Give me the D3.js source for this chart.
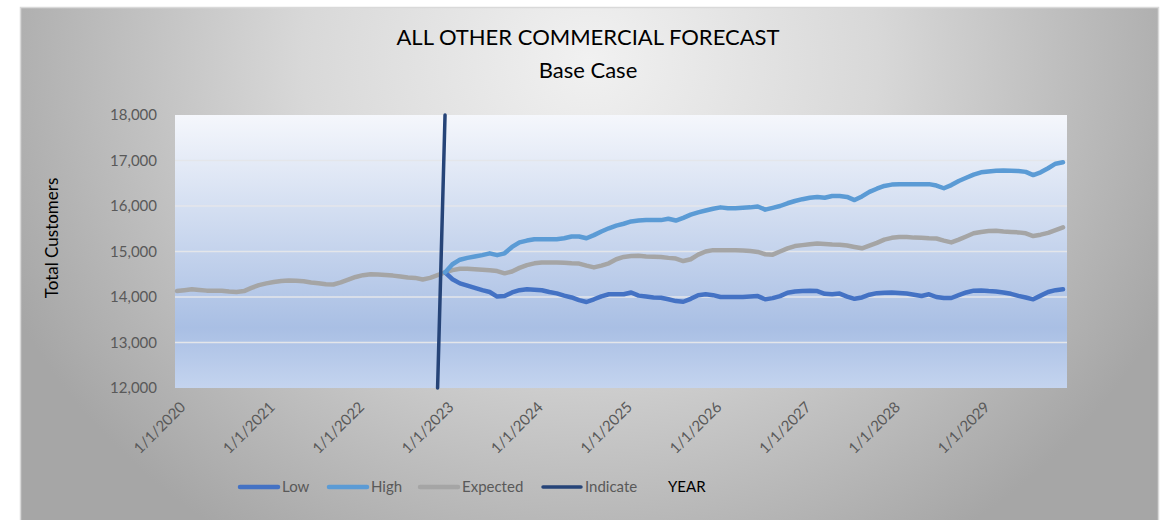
<!DOCTYPE html>
<html>
<head>
<meta charset="utf-8">
<script src="https://cdn.jsdelivr.net/npm/d3@7"></script>
<style>
  html, body { margin: 0; padding: 0; background: #ffffff; }
  svg { display: block; font-family: Lato, "Open Sans", sans-serif; }
</style>
</head>
<body>
<svg id="chart" width="1170" height="520"></svg>
<script>
// Monthly customer counts, January 2020 through December 2029
const startMonth = new Date(Date.UTC(2020, 0, 1));
const endMonth = new Date(Date.UTC(2030, 0, 1));
const forecastStart = new Date(Date.UTC(2023, 0, 1));

// Expected case: history 2020-2022 plus forecast
const expectedValues = [
  14130, 14150, 14170, 14155, 14140, 14135, 14135, 14120, 14110, 14130, 14200, 14260,
  14300, 14330, 14350, 14360, 14355, 14345, 14320, 14300, 14280, 14275, 14320, 14380,
  14440, 14480, 14500, 14495, 14485, 14470, 14450, 14430, 14420, 14385, 14420, 14480,
  14540, 14590, 14620, 14620, 14610, 14600, 14590, 14570, 14520, 14560, 14640, 14700,
  14740, 14760, 14760, 14760, 14755, 14740, 14735, 14690, 14650, 14690, 14740, 14830,
  14880, 14900, 14905, 14890, 14885, 14880, 14860, 14845, 14790, 14830, 14930, 15000,
  15030, 15030, 15030, 15030, 15020, 15010, 14990, 14940, 14930, 15000, 15070, 15120,
  15140, 15160, 15175, 15165, 15155, 15150, 15130, 15100, 15070, 15130, 15190, 15260,
  15300, 15320, 15320, 15305, 15300, 15290, 15285, 15240, 15200, 15260, 15330, 15400,
  15430, 15450, 15455, 15440, 15430, 15420, 15400, 15340, 15370, 15410, 15470, 15530
];

// High case: forecast from January 2023
const highValues = [
  14540, 14720, 14820, 14860, 14890, 14920, 14960, 14920, 14960, 15100, 15200, 15240,
  15270, 15270, 15270, 15270, 15290, 15330, 15330, 15290, 15360, 15440, 15510, 15570,
  15610, 15660, 15680, 15690, 15690, 15690, 15720, 15680, 15740, 15810, 15860, 15900,
  15940, 15970, 15950, 15950, 15960, 15970, 15990, 15920, 15960, 16000, 16060, 16110,
  16150, 16180, 16200, 16180, 16220, 16220, 16200, 16130, 16210, 16310, 16380, 16440,
  16470, 16480, 16480, 16480, 16480, 16480, 16450, 16390, 16460, 16550, 16620, 16690,
  16740, 16760, 16775, 16780, 16775, 16770, 16750, 16680, 16740, 16830, 16930, 16960
];

// Low case: forecast from January 2023
const lowValues = [
  14540, 14390, 14300, 14250, 14200, 14150, 14110, 14010, 14020, 14100, 14150, 14170,
  14160, 14148, 14110, 14080, 14030, 13990, 13930, 13890, 13950, 14015, 14060, 14060,
  14060, 14100, 14030, 14010, 13990, 13985, 13950, 13910, 13895, 13960, 14040, 14060,
  14040, 14000, 14000, 14000, 14000, 14010, 14020, 13950, 13975, 14020, 14095, 14120,
  14130, 14135, 14130, 14070, 14060, 14075, 14010, 13960, 13990, 14050, 14085, 14095,
  14100, 14090, 14075, 14050, 14022, 14060, 14000, 13978, 13978, 14040, 14100, 14140,
  14145, 14130, 14120, 14100, 14070, 14025, 13990, 13949, 14030, 14110, 14150, 14170
];

// Marker line at the start of the forecast
const indicateDates = [new Date(Date.UTC(2022, 11, 1)), new Date(Date.UTC(2023, 0, 1))];
const indicateValues = [12000, 18000];

const yTickValues = [12000, 13000, 14000, 15000, 16000, 17000, 18000];
const xTickLabels = ["1/1/2020", "1/1/2021", "1/1/2022", "1/1/2023", "1/1/2024",
                     "1/1/2025", "1/1/2026", "1/1/2027", "1/1/2028", "1/1/2029"];

const seriesNames = ["Low", "High", "Expected", "Indicate"];
const seriesColors = { Low: "#4472c4", High: "#5b9bd5", Expected: "#a5a5a5", Indicate: "#264478" };

const titleLines = ["ALL OTHER COMMERCIAL FORECAST", "Base Case"];
const yAxisTitle = "Total Customers";
const xAxisTitle = "YEAR";

// ---- layout ----
const svg = d3.select("#chart");
const plot = { left: 175, right: 1067, top: 115, bottom: 388 };

const months = d3.utcMonth.range(startMonth, endMonth);
const monthKey = d => d3.utcFormat("%Y-%m")(d);
const forecastIdx = months.findIndex(m => +m === +forecastStart);

const x = d3.scalePoint()
  .domain(months.map(monthKey))
  .range([plot.left + 2, plot.right - 4]);

const y = d3.scaleLinear()
  .domain([12000, 18000])
  .range([plot.bottom, plot.top]);

// ---- gradients ----
const defs = svg.append("defs");
const bgGrad = defs.append("radialGradient")
  .attr("id", "bgGrad")
  .attr("gradientUnits", "userSpaceOnUse")
  .attr("cx", 590).attr("cy", 60).attr("r", 640)
  .attr("gradientTransform", "translate(590,60) scale(1,0.9) translate(-590,-60)");
bgGrad.append("stop").attr("offset", 0).attr("stop-color", "#f1f1f1");
bgGrad.append("stop").attr("offset", 0.45).attr("stop-color", "#d8d8d8");
bgGrad.append("stop").attr("offset", 1).attr("stop-color", "#a6a6a6");

const plotGrad = defs.append("linearGradient")
  .attr("id", "plotGrad")
  .attr("x1", 0).attr("y1", 0).attr("x2", 0).attr("y2", 1);
plotGrad.append("stop").attr("offset", 0).attr("stop-color", "#f5f7fc");
plotGrad.append("stop").attr("offset", 0.35).attr("stop-color", "#d3def1");
plotGrad.append("stop").attr("offset", 0.78).attr("stop-color", "#a9bfe4");
plotGrad.append("stop").attr("offset", 1).attr("stop-color", "#c4d4ef");

// ---- chart area ----
svg.append("rect")
  .attr("x", 20.5).attr("y", 7.5).attr("width", 1138).attr("height", 520)
  .attr("fill", "url(#bgGrad)")
  .attr("stroke", "#d9d9d9").attr("stroke-width", 1.5);

svg.append("rect")
  .attr("x", plot.left).attr("y", plot.top)
  .attr("width", plot.right - plot.left).attr("height", plot.bottom - plot.top)
  .attr("fill", "url(#plotGrad)");

// ---- title ----
svg.append("text")
  .attr("x", 588).attr("y", 45)
  .attr("text-anchor", "middle")
  .attr("font-size", 22).attr("fill", "#000")
  .text(titleLines[0]);
svg.append("text")
  .attr("x", 588).attr("y", 78)
  .attr("text-anchor", "middle")
  .attr("font-size", 22).attr("fill", "#000")
  .text(titleLines[1]);

// ---- gridlines ----
svg.append("g")
  .selectAll("line")
  .data(yTickValues.filter(v => v > 12000 && v < 18000))
  .join("line")
  .attr("x1", plot.left).attr("x2", plot.right)
  .attr("y1", d => y(d)).attr("y2", d => y(d))
  .attr("stroke", "#e4e6ea").attr("stroke-width", 1.5);

// ---- y axis ----
const yAxis = svg.append("g")
  .attr("transform", `translate(${plot.left - 18},0)`)
  .call(d3.axisLeft(y).tickValues(yTickValues).tickSize(0).tickPadding(0).tickFormat(d3.format(",")));
yAxis.select(".domain").remove();
yAxis.selectAll("text")
  .attr("font-family", "Lato, sans-serif")
  .attr("font-size", 15).attr("fill", "#595959");

svg.append("text")
  .attr("transform", `translate(58,238) rotate(-90)`)
  .attr("text-anchor", "middle")
  .attr("font-size", 17).attr("fill", "#000")
  .text(yAxisTitle);

// ---- x axis ----
const xTickKeys = months.filter(m => m.getUTCMonth() === 0).map(monthKey);
const xAxis = svg.append("g")
  .attr("transform", `translate(0,${plot.bottom})`)
  .call(d3.axisBottom(x).tickValues(xTickKeys).tickSize(0)
    .tickFormat((d, i) => xTickLabels[i]));
xAxis.select(".domain").remove();
xAxis.selectAll("text")
  .attr("font-family", "Lato, sans-serif")
  .attr("font-size", 15).attr("fill", "#595959")
  .attr("text-anchor", "end")
  .attr("dy", null).attr("y", null)
  .attr("transform", "translate(9,20) rotate(-45)");

// ---- lines ----
const line = d3.line().x(d => x(monthKey(d.date))).y(d => y(d.value));

const expectedData = expectedValues.map((v, i) => ({ date: months[i], value: v }));
const highData = highValues.map((v, i) => ({ date: months[forecastIdx + i], value: v }));
const lowData = lowValues.map((v, i) => ({ date: months[forecastIdx + i], value: v }));
const indicateData = indicateDates.map((d, i) => ({ date: d, value: indicateValues[i] }));

const lineSeries = [
  { name: "Expected", data: expectedData, width: 4.5 },
  { name: "Low", data: lowData, width: 4.5 },
  { name: "High", data: highData, width: 4.5 },
  { name: "Indicate", data: indicateData, width: 3.5 }
];

svg.append("g")
  .selectAll("path")
  .data(lineSeries)
  .join("path")
  .attr("d", s => line(s.data))
  .attr("fill", "none")
  .attr("stroke", s => seriesColors[s.name])
  .attr("stroke-width", s => s.width)
  .attr("stroke-linejoin", "round")
  .attr("stroke-linecap", "round");

// ---- legend ----
const legendY = 487;
const legendX = [240, 329, 420, 543];
const legend = svg.append("g");
seriesNames.forEach((name, i) => {
  legend.append("line")
    .attr("x1", legendX[i]).attr("x2", legendX[i] + 38)
    .attr("y1", legendY).attr("y2", legendY)
    .attr("stroke", seriesColors[name])
    .attr("stroke-width", name === "Indicate" ? 3.5 : 4.5)
    .attr("stroke-linecap", "round");
  legend.append("text")
    .attr("x", legendX[i] + 42).attr("y", legendY + 5)
    .attr("font-size", 15).attr("fill", "#595959")
    .text(name);
});
svg.append("text")
  .attr("x", 668).attr("y", legendY + 5)
  .attr("font-size", 15).attr("fill", "#000")
  .text(xAxisTitle);
</script>
</body>
</html>
